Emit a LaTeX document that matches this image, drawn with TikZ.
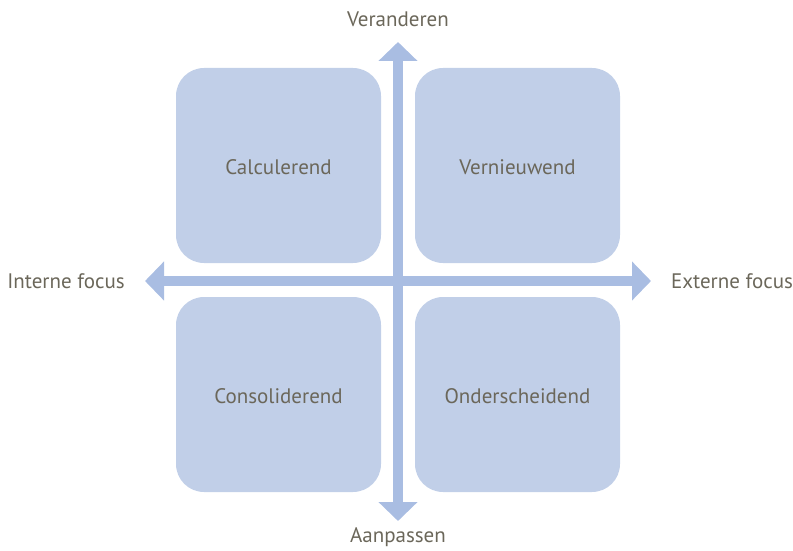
\documentclass[tikz,border=0pt]{standalone}
\usepackage{fontspec}
\setmainfont{PT Sans}
\usetikzlibrary{arrows.meta}
\definecolor{boxfill}{HTML}{C1CFE8}
\definecolor{axiscol}{HTML}{A9BDE2}
\definecolor{txt}{HTML}{6B675A}
\newcommand{\qtext}[1]{\raisebox{-2pt}[\height][\depth]{#1}}
\tikzset{
  quad/.style={fill=boxfill, draw=none, rounded corners=28pt, minimum width=205pt, minimum height=195pt, inner sep=0pt, text=txt, font=\fontsize{21}{24}\selectfont},
  axislabel/.style={text=txt, font=\fontsize{21}{24}\selectfont, inner sep=0pt},
  axis/.style={draw=axiscol, line width=10pt, {Triangle[width=38pt,length=19pt]}-{Triangle[width=38pt,length=19pt]}}
}
\begin{document}
\begin{tikzpicture}[x=1pt,y=-1pt]
\useasboundingbox (0,0) rectangle (793,551);
\node[quad] (calc) at (278.5,165.5) {\qtext{Calculerend}};
\node[quad] (vern) at (517.5,165.5) {\qtext{Vernieuwend}};
\node[quad] (cons) at (278.5,394.5) {\qtext{Consoliderend}};
\node[quad] (onde) at (517.5,394.5) {\qtext{Onderscheidend}};
\coordinate (top) at (398,42);
\coordinate (bot) at (398,521);
\coordinate (lft) at (145,281);
\coordinate (rgt) at (651,281);
\draw[axis] (bot) -- (top);
\draw[axis] (lft) -- (rgt);
\node[axislabel] (ver) at (398,19) {Veranderen};
\node[axislabel] (aan) at (398,537) {Aanpassen};
\node[axislabel] (int) at (66,281) {Interne focus};
\node[axislabel] (ext) at (732,281) {Externe focus};
\end{tikzpicture}
\end{document}
